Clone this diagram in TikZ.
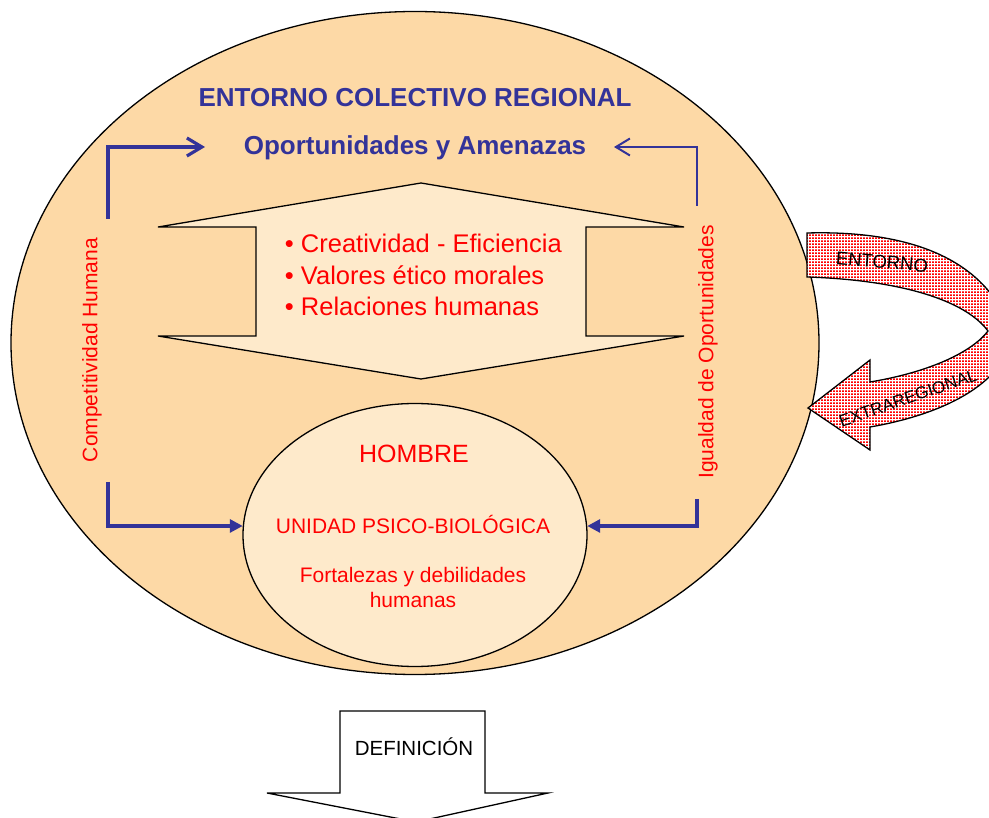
\documentclass[tikz,border=0pt]{standalone}
\usepackage{fontspec}
\setmainfont{Liberation Sans}
\usetikzlibrary{shapes.geometric,arrows.meta,patterns}
\definecolor{peach}{HTML}{FDD9A6}
\definecolor{cream}{HTML}{FEEACB}
\definecolor{navy}{HTML}{333399}
\pgfdeclarepatternformonly{redgrid}{\pgfpointorigin}{\pgfqpoint{2.6pt}{2.6pt}}{\pgfqpoint{2.6pt}{2.6pt}}{%
  \pgfpathrectangle{\pgfpointorigin}{\pgfqpoint{2.1pt}{1.9pt}}\pgfusepath{fill}}

\begin{document}
\begin{tikzpicture}
[x=1pt, y=-1pt, line width=1.3pt,
 ring/.style={draw, ellipse, inner sep=0pt},
 box/.style={draw, fill=cream},
 link/.style={draw=navy, line width=3.2pt},
 redtxt/.style={text=red, font=\fontsize{21}{25}\selectfont},
 bluetxt/.style={text=navy, font=\bfseries\fontsize{26}{30}\selectfont}]
\useasboundingbox (0,0) rectangle (989,818);
\clip (0,0) rectangle (989,818);
\node[ring, fill=peach, minimum width=808, minimum height=663] (entorno) at (415,343) {};
\draw[preaction={fill=white}, pattern=redgrid, pattern color=red] (807,233) .. controls (915,230) and (990,262) .. (1012,335)
  .. controls (1005,385) and (940,415) .. (870,427) -- (870,450) -- (808,408) -- (870,360) -- (870,382)
  .. controls (930,372) and (972,352) .. (988,331) .. controls (965,300) and (900,280) .. (807,277) -- cycle;
\node[font=\fontsize{18.5}{20}\selectfont, rotate=-5] (ent) at (882,262) {ENTORNO};
\node[font=\fontsize{17}{20}\selectfont, rotate=19] (extra) at (908,398) {EXTRAREGIONAL};
\draw[box] (421,183) -- (684,227) -- (586,227) -- (586,336) -- (684,336) -- (421,379) -- (158,336)
  -- (256,336) -- (256,227) -- (158,227) -- cycle;
\node[ring, fill=cream, minimum width=344, minimum height=263] (hombre) at (415,535) {};
\node[bluetxt, anchor=base] (titulo) at (415,107) {ENTORNO COLECTIVO REGIONAL};
\node[bluetxt, anchor=base] (opor) at (415,155) {Oportunidades y Amenazas};
\foreach \y/\t [count=\i] in {253/Creatividad - Eficiencia, 284.5/Valores ético morales, 316/Relaciones humanas}
  \node[redtxt, font=\fontsize{25.5}{30}\selectfont, anchor=base west] (item\i) at (281,\y) {•\ \t};
\node[redtxt, rotate=90] (compet) at (92,350) {Competitividad Humana};
\node[redtxt, rotate=90] (igual) at (708,352) {Igualdad de Oportunidades};
\node[redtxt, font=\fontsize{25}{30}\selectfont, anchor=base] (hom) at (414,463) {HOMBRE};
\node[redtxt, anchor=base] (unidad) at (413,533) {UNIDAD PSICO-BIOLÓGICA};
\node[redtxt, anchor=base] (fort) at (413,582) {Fortalezas y debilidades};
\node[redtxt, anchor=base] (hum) at (413,607) {humanas};
\coordinate (cl) at (108,219);
\coordinate (al) at (205,147);
\coordinate (cr) at (697,206);
\coordinate (ar) at (614,147);
\coordinate (bl) at (108,482);
\coordinate (br) at (697,499);
\draw[link, -{Straight Barb[length=15pt,width=18pt]}] (cl) |- (al);
\draw[link, line width=2pt, -{Straight Barb[length=14pt,width=17pt]}] (cr) |- (ar);
\draw[link, -{Triangle[length=13pt,width=13pt]}] (bl) |- (hombre.177);
\draw[link, -{Triangle[length=13pt,width=13pt]}] (br) |- (hombre.3);
\draw[fill=white] (340,711) -- (485,711) -- (485,793) -- (548,793) -- (416,822) -- (267,793) -- (340,793) -- cycle;
\node[font=\fontsize{20.5}{24}\selectfont, anchor=base] (defin) at (414,755) {DEFINICIÓN};
\end{tikzpicture}
\end{document}
